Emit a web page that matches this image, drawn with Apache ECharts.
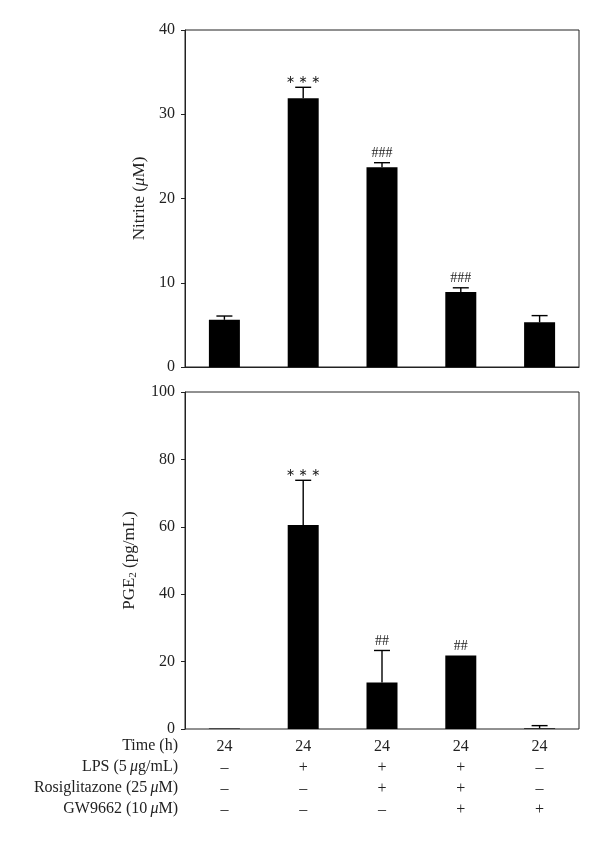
<!DOCTYPE html>
<html>
<head>
<meta charset="utf-8">
<script src="https://cdn.jsdelivr.net/npm/echarts@6/dist/echarts.min.js"></script>
<style>
html,body{margin:0;padding:0;background:#fff;}
#chart{width:600px;height:847px;}
</style>
</head>
<body>
<div id="chart"></div>
<script>
// ---- data ----
const groups = ['G1', 'G2', 'G3', 'G4', 'G5'];
const timeRow = ['24', '24', '24', '24', '24'];
const lpsRow = ['–', '+', '+', '+', '–'];
const rosiRow = ['–', '–', '+', '+', '–'];
const gwRow = ['–', '–', '–', '+', '+'];
const rowNames = ['Time (h)', 'LPS (5\u2009{i|μ}g/mL)', 'Rosiglitazone (25\u2009{i|μ}M)', 'GW9662 (10\u2009{i|μ}M)'];

const nitrite = [5.6, 31.9, 23.7, 8.9, 5.3];
const nitriteErr = [0.45, 1.3, 0.55, 0.5, 0.8];
const nitriteMarks = ['', '∗∗∗', '###', '###', ''];
const nitriteTicks = [0, 10, 20, 30, 40];

const pge2 = [0.15, 60.5, 13.8, 21.8, 0.2];
const pge2Err = [0, 13.3, 9.5, 0, 0.8];
const pge2Marks = ['', '∗∗∗', '##', '##', ''];
const pge2Ticks = [0, 20, 40, 60, 80, 100];

const FONT = 'Liberation Serif';
const FS = 16;
const chart = echarts.init(document.getElementById('chart'));

function errRender(marks) {
  return function (params, api) {
    const i = api.value(0);
    const v = api.value(1);
    const e = api.value(2);
    const base = api.coord([i, v]);
    const top = api.coord([i, v + e]);
    const children = [];
    if (e > 0) {
      children.push({ type: 'line', shape: { x1: base[0], y1: base[1], x2: top[0], y2: top[1] }, style: { stroke: '#000', lineWidth: 1.4 } });
      children.push({ type: 'line', shape: { x1: top[0] - 8, y1: top[1], x2: top[0] + 8, y2: top[1] }, style: { stroke: '#000', lineWidth: 1.4 } });
    }
    const m = marks[params.dataIndex];
    if (m) {
      const isStar = m.indexOf('∗') >= 0;
      children.push({ type: 'text', x: top[0], y: top[1] - 2, style: {
        text: isStar ? m.split('').join(' ') : m,
        font: isStar ? '11px "DejaVu Sans"' : '14px "Liberation Serif"',
        fill: '#222', align: 'center', verticalAlign: 'bottom' } });
    }
    return { type: 'group', children: children };
  };
}

function rowAxis(data, offset) {
  return {
    type: 'category', gridIndex: 1, data: groups, position: 'bottom', offset: offset,
    axisLine: { show: false }, axisTick: { show: false },
    axisLabel: { margin: 10, fontFamily: FONT, fontSize: FS, color: '#222',
      formatter: function (val, idx) { return data[idx]; } }
  };
}

const richName = {
  i: { fontFamily: FONT, fontSize: FS + 1, fontStyle: 'italic', color: '#222' },
  s: { fontFamily: FONT, fontSize: 11, color: '#222', padding: [7, 0, 0, 0] }
};

const option = {
  backgroundColor: '#fff',
  animation: false,
  grid: [
    { left: 185, right: 21, top: 30, height: 337, show: true, borderColor: '#222', borderWidth: 1 },
    { left: 185, right: 21, top: 392, height: 337, show: true, borderColor: '#222', borderWidth: 1 }
  ],
  xAxis: [
    { type: 'category', gridIndex: 0, data: groups, axisLine: { lineStyle: { color: '#222' } }, axisTick: { show: false }, axisLabel: { show: false } },
    rowAxis(timeRow, 0),
    rowAxis(lpsRow, 21),
    rowAxis(rosiRow, 42),
    rowAxis(gwRow, 63)
  ],
  yAxis: [
    { type: 'value', gridIndex: 0, min: 0, max: 40, interval: 10,
      name: 'Nitrite ({i|μ}M)', nameLocation: 'middle', nameGap: 37,
      nameTextStyle: { fontFamily: FONT, fontSize: FS + 1, color: '#222', rich: richName },
      axisLine: { show: true, lineStyle: { color: '#222' } },
      axisTick: { show: true, length: 4, lineStyle: { color: '#222' } },
      splitLine: { show: false },
      axisLabel: { margin: 10, fontFamily: FONT, fontSize: FS, color: '#222' } },
    { type: 'value', gridIndex: 1, min: 0, max: 100, interval: 20,
      name: 'PGE{s|2} (pg/mL)', nameLocation: 'middle', nameGap: 46,
      nameTextStyle: { fontFamily: FONT, fontSize: FS + 1, color: '#222', rich: richName },
      axisLine: { show: true, lineStyle: { color: '#222' } },
      axisTick: { show: true, length: 4, lineStyle: { color: '#222' } },
      splitLine: { show: false },
      axisLabel: { margin: 10, fontFamily: FONT, fontSize: FS, color: '#222' } }
  ],
  series: [
    { type: 'bar', xAxisIndex: 0, yAxisIndex: 0, data: nitrite, barWidth: 31, itemStyle: { color: '#000' } },
    { type: 'custom', xAxisIndex: 0, yAxisIndex: 0, renderItem: errRender(nitriteMarks),
      data: nitrite.map((v, i) => [i, v, nitriteErr[i]]), z: 5 },
    { type: 'bar', xAxisIndex: 1, yAxisIndex: 1, data: pge2, barWidth: 31, itemStyle: { color: '#000' } },
    { type: 'custom', xAxisIndex: 1, yAxisIndex: 1, renderItem: errRender(pge2Marks),
      data: pge2.map((v, i) => [i, v, pge2Err[i]]), z: 5 }
  ],
  graphic: rowNames.map((t, k) => ({
    type: 'text', right: 600 - 178, top: 738 + k * 21,
    style: { text: t, font: FS + 'px "Liberation Serif"', fill: '#222', align: 'right',
      rich: { i: { font: 'italic ' + FS + 'px "Liberation Serif"', fill: '#222' } } }
  }))
};
chart.setOption(option);
</script>
</body>
</html>
